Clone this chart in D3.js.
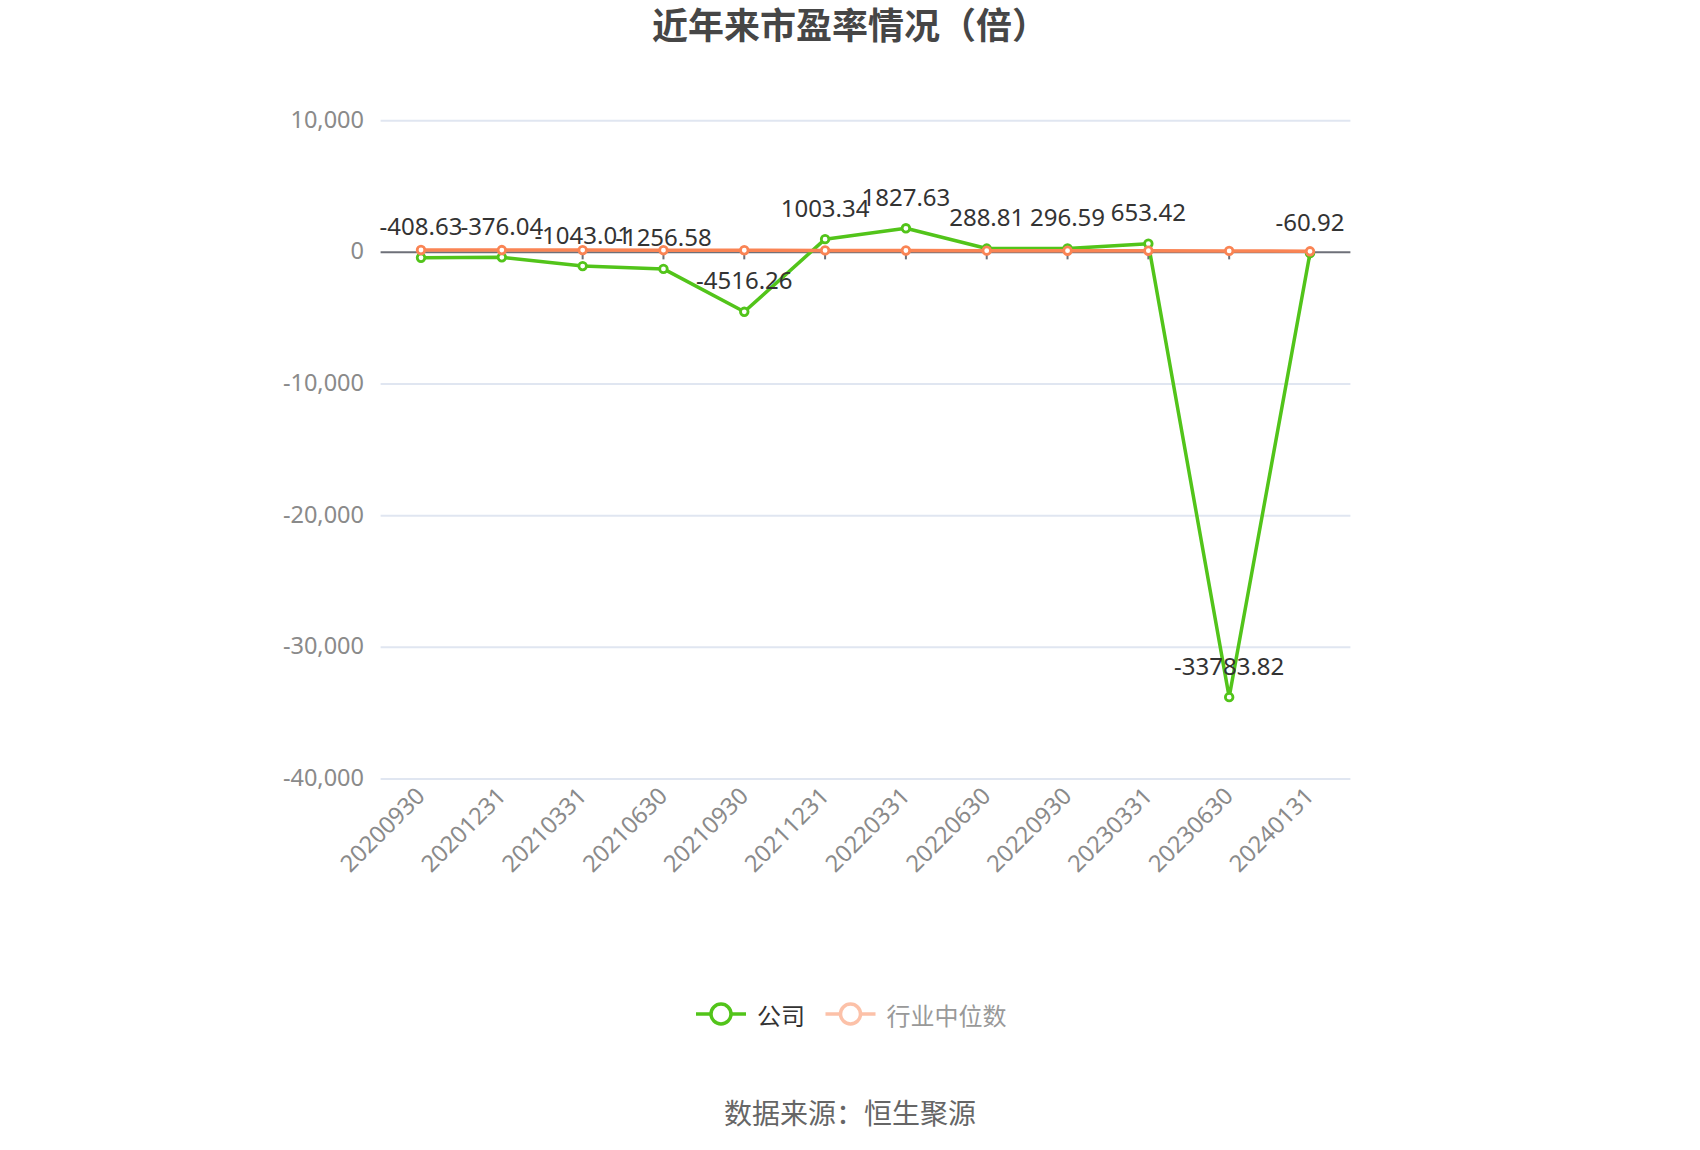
<!DOCTYPE html>
<html lang="zh">
<head>
  <meta charset="UTF-8">
  <title>近年来市盈率情况（倍）</title>
  <style>
    body { margin: 0; background: #fff; }
    svg text { font-family: "Noto Sans", "Noto Sans CJK SC", sans-serif; }
  </style>
</head>
<body>
<div id="chart"></div>
<script src="https://d3js.org/d3.v7.min.js"></script>
<script>
  // data
  const dates = ['20200930', '20201231', '20210331', '20210630', '20210930', '20211231',
    '20220331', '20220630', '20220930', '20230331', '20230630', '20240131'];
  const company = [-408.63, -376.04, -1043.01, -1256.58, -4516.26, 1003.34,
    1827.63, 288.81, 296.59, 653.42, -33783.82, -60.92];
  const industry = [180, 175, 170, 165, 160, 150, 140, 130, 125, 125, 110, 80];
  const yTicks = [10000, 0, -10000, -20000, -30000, -40000];
  const seriesNames = ['公司', '行业中位数'];

  const W = 1700, H = 1150;
  const green = '#52c41a', orange = '#fa8454';
  const cjk = '"Noto Sans CJK SC", "Noto Sans", sans-serif';

  const svg = d3.select('#chart').append('svg')
    .attr('width', W).attr('height', H);

  const x = d3.scaleBand().domain(dates).range([380.6, 1350.4]);
  const y = d3.scaleLinear().domain([-40000, 10000]).range([779, 120.7]);
  const cx = d => x(d) + x.bandwidth() / 2;
  // plain hyphen for negatives, like the original
  const fmt = d => d3.format(',')(d).replace('\u2212', '-');

  // title
  svg.append('text')
    .attr('x', 850).attr('y', 39)
    .attr('text-anchor', 'middle')
    .style('font-family', cjk)
    .style('font-size', '36px')
    .style('font-weight', 'bold')
    .style('fill', '#464646')
    .text('近年来市盈率情况（倍）');

  // grid lines
  svg.append('g').selectAll('line')
    .data(yTicks.filter(t => t !== 0))
    .join('line')
    .attr('x1', 380.6).attr('x2', 1350.4)
    .attr('y1', d => y(d)).attr('y2', d => y(d))
    .style('stroke', '#e0e6f1').style('stroke-width', 2);

  // y axis labels
  svg.append('g').selectAll('text')
    .data(yTicks)
    .join('text')
    .attr('x', 364).attr('y', d => y(d) - 2)
    .attr('text-anchor', 'end')
    .attr('dominant-baseline', 'central')
    .style('font-size', '23.5px')
    .style('fill', '#8a8a8a')
    .text(fmt);

  // zero axis line with ticks
  svg.append('line')
    .attr('x1', 380.6).attr('x2', 1350.4)
    .attr('y1', y(0)).attr('y2', y(0))
    .style('stroke', '#6e7079').style('stroke-width', 2);
  svg.append('g').selectAll('line')
    .data(dates)
    .join('line')
    .attr('x1', d => cx(d)).attr('x2', d => cx(d))
    .attr('y1', y(0)).attr('y2', y(0) + 7)
    .style('stroke', '#6e7079').style('stroke-width', 2);

  // x axis labels
  svg.append('g').selectAll('text')
    .data(dates)
    .join('text')
    .attr('transform', d => `translate(${cx(d) - 1},${791}) rotate(-45)`)
    .attr('text-anchor', 'end')
    .attr('dominant-baseline', 'central')
    .style('font-size', '23.5px')
    .style('fill', '#8a8a8a')
    .text(d => d);

  const line = d3.line().x((d, i) => cx(dates[i])).y(d => y(d));

  function drawSeries(values, color) {
    svg.append('path')
      .datum(values)
      .attr('d', line)
      .style('fill', 'none')
      .style('stroke', color)
      .style('stroke-width', 3.5)
      .style('stroke-linejoin', 'round');
    svg.append('g').selectAll('circle')
      .data(values)
      .join('circle')
      .attr('cx', (d, i) => cx(dates[i]))
      .attr('cy', d => y(d))
      .attr('r', 3.8)
      .style('fill', '#fff')
      .style('stroke', color)
      .style('stroke-width', 2.8);
  }

  drawSeries(company, green);
  drawSeries(industry, orange);

  // data labels for the company series
  svg.append('g').selectAll('text')
    .data(company)
    .join('text')
    .attr('x', (d, i) => cx(dates[i]))
    .attr('y', d => y(d) - 22.5)
    .attr('text-anchor', 'middle')
    .style('font-size', '24px')
    .style('fill', '#333')
    .text(d => d);

  // legend
  const legend = [
    { name: seriesNames[0], color: green, cx: 721, text: '#333', opacity: 1 },
    { name: seriesNames[1], color: orange, cx: 850.5, text: '#999', opacity: 0.5 }
  ];
  const lg = svg.append('g').selectAll('g')
    .data(legend)
    .join('g')
    .style('opacity', d => d.opacity);
  lg.append('line')
    .attr('x1', d => d.cx - 25).attr('x2', d => d.cx + 25)
    .attr('y1', 1014).attr('y2', 1014)
    .style('stroke', d => d.color).style('stroke-width', 3.5);
  lg.append('circle')
    .attr('cx', d => d.cx).attr('cy', 1014).attr('r', 10)
    .style('fill', '#fff')
    .style('stroke', d => d.color).style('stroke-width', 3.5);
  svg.append('g').selectAll('text')
    .data(legend)
    .join('text')
    .attr('x', d => d.cx + 36).attr('y', 1014)
    .attr('dominant-baseline', 'central')
    .style('font-family', cjk)
    .style('font-size', '24px')
    .style('fill', d => d.text)
    .text(d => d.name);

  // source
  svg.append('text')
    .attr('x', 850).attr('y', 1112)
    .attr('text-anchor', 'middle')
    .attr('dominant-baseline', 'central')
    .style('font-family', cjk)
    .style('font-size', '28px')
    .style('fill', '#666')
    .text('数据来源：恒生聚源');
</script>
</body>
</html>
